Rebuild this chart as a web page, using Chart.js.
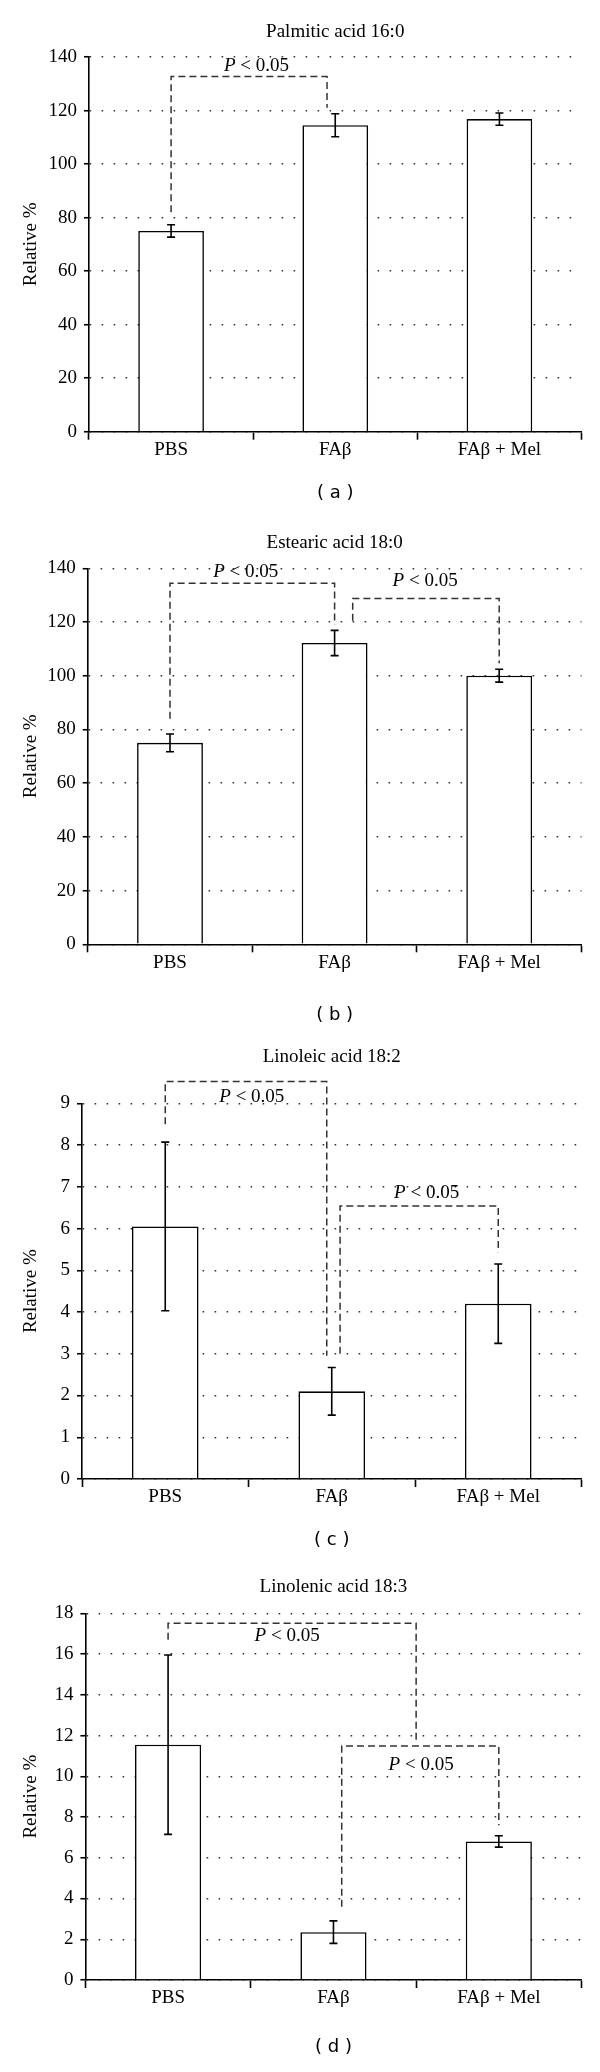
<!DOCTYPE html>
<html>
<head>
<meta charset="utf-8">
<script src="https://cdn.jsdelivr.net/npm/chart.js@4.4.1/dist/chart.umd.min.js"></script>
<style>
  body { margin: 0; background: #fff; }
  canvas { display: block; }
</style>
</head>
<body>
<canvas id="chartA" width="600" height="511"></canvas>
<canvas id="chartB" width="600" height="518"></canvas>
<canvas id="chartC" width="600" height="526"></canvas>
<canvas id="chartD" width="600" height="517"></canvas>
<script>
// groups on the x axis
var groups = ["PBS", "FAβ", "FAβ + Mel"];

// mean and error (relative %)
var palmitic = [75, 114.5, 116.8];
var palmiticErr = [2.3, 4.3, 2.3];
var stearic = [75, 112.2, 100];
var stearicErr = [3.3, 4.7, 2.4];
var linoleic = [6.05, 2.1, 4.2];
var linoleicErr = [2.02, 0.57, 0.95];
var linolenic = [11.55, 2.35, 6.8];
var linolenicErr = [4.4, 0.55, 0.28];

// significance brackets: [from, to, leftEnd, top, rightEnd, labelAt, labelValue]
var palmiticSig = [[0, 0.95, 82, 132.7, 121, 0.52, 136.5]];
var stearicSig = [[0, 1, 84, 134.4, 119, 0.46, 138.7], [1.11, 2, 120.5, 128.8, 104.6, 1.55, 135.3]];
var linoleicSig = [[0, 0.97, 8.5, 9.52, 2.95, 0.52, 9.16], [1.05, 2, 3.0, 6.54, 5.43, 1.57, 6.86]];
var linolenicSig = [[0, 1.5, 16.7, 17.51, 11.7, 0.72, 16.89], [1.05, 2, 3.6, 11.49, 7.6, 1.53, 10.55]];

var serif = "'Liberation Serif', 'Times New Roman', serif";
var fs = 19;
Chart.defaults.font.family = serif;
Chart.defaults.font.size = fs;
Chart.defaults.color = "#000";

var extras = {
  id: "extras",
  afterDatasetsDraw: function (chart) {
    var o = chart.options.plugins.extras;
    var x = chart.scales.x, y = chart.scales.y, ctx = chart.ctx;
    var meta = chart.getDatasetMeta(0);
    var vals = chart.data.datasets[0].data;
    ctx.save();
    ctx.strokeStyle = "#000";
    ctx.lineWidth = 1.6;
    o.err.forEach(function (e, i) {
      var px = meta.data[i].x;
      var t = y.getPixelForValue(vals[i] + e), b = y.getPixelForValue(vals[i] - e);
      ctx.beginPath();
      ctx.moveTo(px, t); ctx.lineTo(px, b);
      ctx.moveTo(px - 4, t); ctx.lineTo(px + 4, t);
      ctx.moveTo(px - 4, b); ctx.lineTo(px + 4, b);
      ctx.stroke();
    });
    function cx(i) {
      var a = x.getPixelForValue(0), c = x.getPixelForValue(1);
      return a + i * (c - a);
    }
    ctx.strokeStyle = "#333";
    ctx.lineWidth = 1.5;
    ctx.setLineDash([7, 4]);
    o.sig.forEach(function (s) {
      ctx.beginPath();
      ctx.moveTo(cx(s[0]), y.getPixelForValue(s[2]));
      ctx.lineTo(cx(s[0]), y.getPixelForValue(s[3]));
      ctx.lineTo(cx(s[1]), y.getPixelForValue(s[3]));
      ctx.lineTo(cx(s[1]), y.getPixelForValue(s[4]));
      ctx.stroke();
    });
    ctx.setLineDash([]);
    ctx.fillStyle = "#000";
    ctx.textBaseline = "middle";
    ctx.textAlign = "left";
    o.sig.forEach(function (s) {
      var lx = cx(s[5]), ly = y.getPixelForValue(s[6]);
      var rest = " < 0.05";
      ctx.font = "italic " + fs + "px " + serif;
      var w1 = ctx.measureText("P").width;
      ctx.font = fs + "px " + serif;
      var w2 = ctx.measureText(rest).width;
      var sx = lx - (w1 + w2) / 2;
      ctx.font = "italic " + fs + "px " + serif;
      ctx.fillText("P", sx, ly);
      ctx.font = fs + "px " + serif;
      ctx.fillText(rest, sx + w1, ly);
    });
    ctx.restore();
  }
};

function makeChart(id, name, caption, values, errors, max, step, sig, L) {
  var th = fs * 1.2 / 2, ch = 18 * 1.2 / 2, xh = 7 + fs * 1.2;
  new Chart(document.getElementById(id), {
    type: "bar",
    data: {
      labels: groups,
      datasets: [{
        data: values,
        backgroundColor: "#fff",
        borderColor: "#000",
        borderWidth: 1.6,
        barPercentage: 0.4,
        categoryPercentage: 1
      }]
    },
    options: {
      responsive: false,
      animation: false,
      events: [],
      layout: { padding: { left: 20, right: 18.5, top: 0, bottom: 0 } },
      plugins: {
        legend: { display: false },
        tooltip: { enabled: false },
        title: {
          display: true,
          fullSize: false,
          text: name,
          color: "#000",
          font: { size: fs, weight: "normal" },
          padding: { top: L.titleY - th, bottom: L.top - L.titleY - th }
        },
        subtitle: {
          display: true,
          fullSize: false,
          position: "bottom",
          text: caption,
          color: "#000",
          font: { family: "'DejaVu Sans', sans-serif", size: 18 },
          padding: { top: L.captionY - ch - (L.bottom + xh), bottom: L.H - L.captionY - ch }
        },
        extras: { err: errors, sig: sig }
      },
      scales: {
        x: {
          border: { color: "#000", width: 1.6 },
          grid: {
            drawOnChartArea: false,
            drawTicks: true,
            tickLength: 8,
            tickColor: "#000",
            tickWidth: 1.6,
            offset: true
          },
          ticks: { color: "#000", padding: -1 },
          afterFit: function (s) { s.height = xh; }
        },
        y: {
          min: 0,
          max: max,
          border: { color: "#000", width: 1.6, dash: [1.6, 10.4] },
          grid: {
            color: "#333",
            lineWidth: 1.5,
            tickLength: 5,
            tickColor: "#000",
            tickWidth: 1.6,
            tickBorderDash: [100, 0]
          },
          ticks: { stepSize: step, color: "#000", padding: 7 },
          title: { display: true, text: "Relative %", color: "#000", padding: 0 },
          afterFit: function (s) { s.width = L.axisX - 20; }
        }
      }
    },
    plugins: [extras]
  });
}

makeChart("chartA", "Palmitic acid 16:0", "( a )", palmitic, palmiticErr, 140, 20, palmiticSig,
  { titleY: 31.7, top: 57, bottom: 431.7, captionY: 493, axisX: 89, H: 511 });
makeChart("chartB", "Estearic acid 18:0", "( b )", stearic, stearicErr, 140, 20, stearicSig,
  { titleY: 31.7, top: 57.3, bottom: 433.3, captionY: 504, axisX: 87.7, H: 518 });
makeChart("chartC", "Linoleic acid 18:2", "( c )", linoleic, linoleicErr, 9, 1, linoleicSig,
  { titleY: 28, top: 74.3, bottom: 450, captionY: 511, axisX: 82, H: 526 });
makeChart("chartD", "Linolenic acid 18:3", "( d )", linolenic, linolenicErr, 18, 2, linolenicSig,
  { titleY: 31.7, top: 58.3, bottom: 425, captionY: 492.7, axisX: 85.4, H: 517 });
</script>
</body>
</html>
